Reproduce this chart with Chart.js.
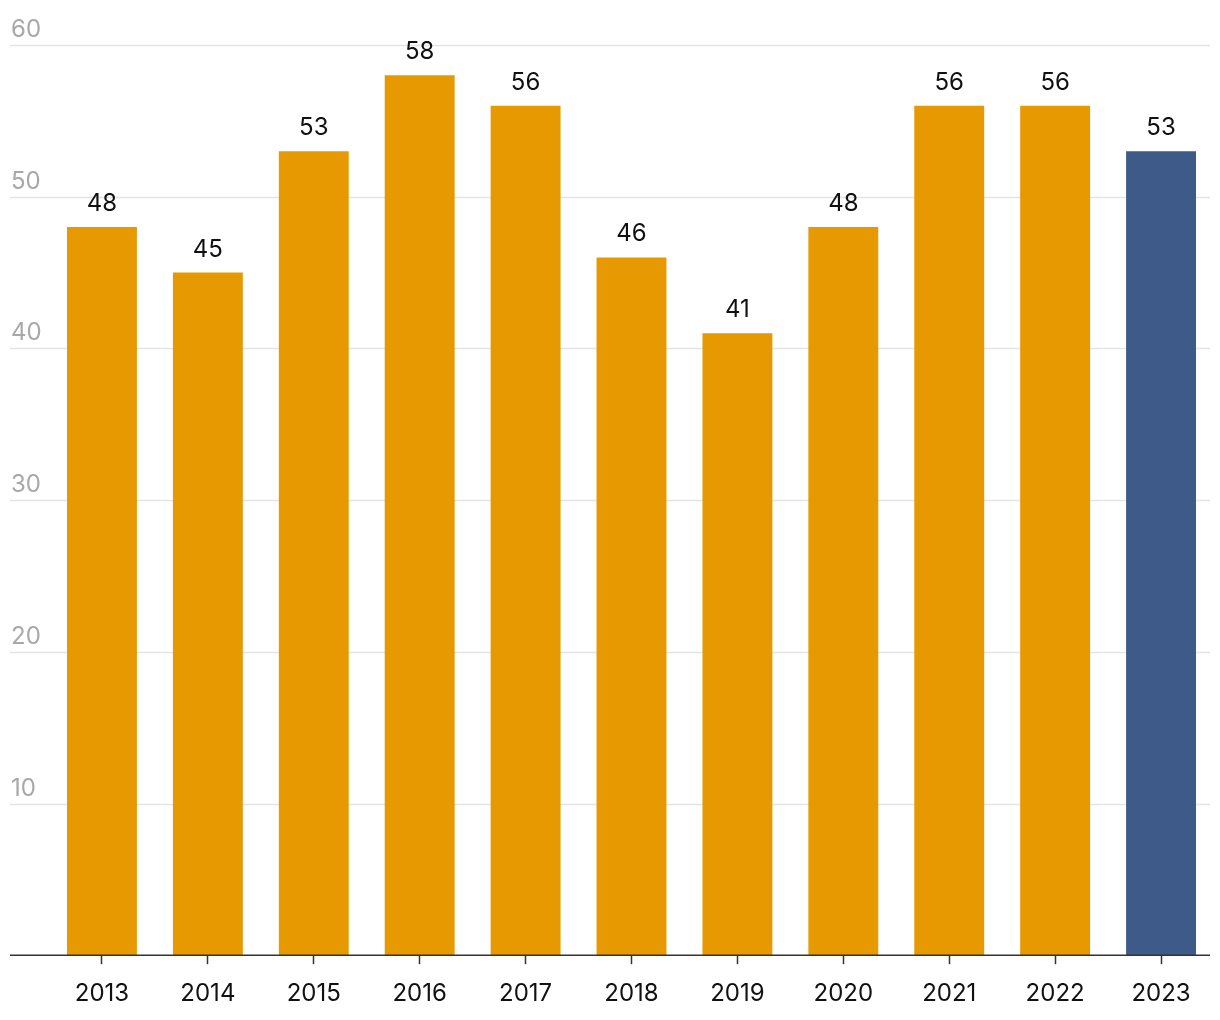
<!DOCTYPE html>
<html>
<head>
<meta charset="utf-8">
<script src="https://cdn.jsdelivr.net/npm/chart.js@4/dist/chart.umd.min.js"></script>
<style>
  html, body { margin: 0; padding: 0; background: #fff; }
  #wrap { width: 1220px; height: 1020px; position: relative; }
</style>
</head>
<body>
<div id="wrap"><canvas id="bar_chart"></canvas></div>
<script>
var years = ['2013', '2014', '2015', '2016', '2017', '2018', '2019', '2020', '2021', '2022', '2023'];
var values = [48, 45, 53, 58, 56, 46, 41, 48, 56, 56, 53];
var yTicks = [10, 20, 30, 40, 50, 60];

var ORANGE = '#e69900';
var BLUE = '#3e5a88';
var FONT = 'Inter, "Noto Sans", sans-serif';

// gridlines, y labels and the baseline run wider than the bar area
var frame = {
    id: 'frame',
    beforeDatasetsDraw: function (chart) {
        var ctx = chart.ctx;
        var y = chart.scales.y;
        ctx.save();
        ctx.strokeStyle = '#e4e4e4';
        ctx.lineWidth = 1.5;
        ctx.fillStyle = '#a8a8a8';
        ctx.font = '24px ' + FONT;
        ctx.textAlign = 'left';
        ctx.textBaseline = 'alphabetic';
        yTicks.forEach(function (v) {
            var py = Math.round(y.getPixelForValue(v)) + 0.5;
            ctx.beginPath();
            ctx.moveTo(10, py);
            ctx.lineTo(1210, py);
            ctx.stroke();
            ctx.fillText(String(v), 11, py - 9);
        });
        ctx.restore();
    },
    afterDatasetsDraw: function (chart) {
        var ctx = chart.ctx;
        var y = chart.scales.y;
        var meta = chart.getDatasetMeta(0);
        ctx.save();
        ctx.fillStyle = '#111';
        ctx.font = '24px ' + FONT;
        ctx.textAlign = 'center';
        ctx.textBaseline = 'alphabetic';
        meta.data.forEach(function (bar, i) {
            ctx.fillText(String(values[i]), bar.x, bar.y - 16);
        });
        var py = y.getPixelForValue(0);
        ctx.strokeStyle = '#333';
        ctx.lineWidth = 1.5;
        ctx.beginPath();
        ctx.moveTo(10, py);
        ctx.lineTo(1210, py);
        ctx.stroke();
        ctx.restore();
    }
};

var bar_chart = new Chart(document.getElementById('bar_chart'), {
    type: 'bar',
    data: {
        labels: years,
        datasets: [{
            data: values,
            backgroundColor: years.map(function (y, i) {
                return i === years.length - 1 ? BLUE : ORANGE;
            }),
            borderWidth: 0,
            categoryPercentage: 1,
            barPercentage: 0.66
        }]
    },
    options: {
        responsive: true,
        maintainAspectRatio: false,
        animation: false,
        layout: {
            padding: { left: 49, right: 6, top: 45, bottom: -3 }
        },
        plugins: {
            legend: { display: false },
            tooltip: { enabled: false },
            title: { display: false }
        },
        scales: {
            x: {
                grid: {
                    offset: false,
                    drawOnChartArea: false,
                    drawTicks: true,
                    tickLength: 9,
                    tickWidth: 1.5,
                    tickColor: '#333'
                },
                border: { display: false },
                ticks: {
                    color: '#111',
                    font: { family: FONT, size: 24 },
                    padding: 15,
                    maxRotation: 0
                }
            },
            y: {
                display: false,
                min: 0,
                max: 60
            }
        }
    },
    plugins: [frame]
});
</script>
</body>
</html>
